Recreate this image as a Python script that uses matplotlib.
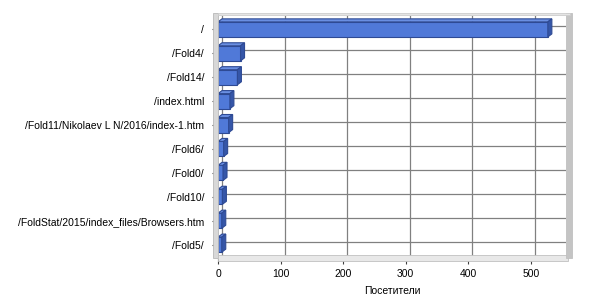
import matplotlib
matplotlib.use("Agg")
import matplotlib.pyplot as plt
from matplotlib.patches import Polygon, Rectangle
import matplotlib.transforms as mtransforms

plt.rcParams['font.family'] = ['Liberation Sans', 'DejaVu Sans']

# data
pages = ["/", "/Fold4/", "/Fold14/", "/index.html", "/Fold11/Nikolaev L N/2016/index-1.htm",
         "/Fold6/", "/Fold0/", "/Fold10/", "/FoldStat/2015/index_files/Browsers.htm", "/Fold5/"]
visitors = [527, 36, 31, 19, 17, 9, 8, 7, 6, 6]
xticks = [0, 100, 200, 300, 400, 500]

front = "#5079d8"
side = "#3556a8"
top = "#6a8fe2"
edge = "#2e4a94"

fig = plt.figure(figsize=(6, 3), dpi=100)
W, H = 600, 300
x0, x1, y0, y1 = 218, 566, 258, 16
ax = fig.add_axes([x0 / W, 1 - y0 / H, (x1 - x0) / W, (y0 - y1) / H])
ax.set_xlim(0, 556)
ax.set_ylim(9.56, -0.56)
for s in ax.spines.values():
    s.set_visible(False)

# 3D depth (pixels) for the back wall
dpx, dpy = 4, 3
off = mtransforms.ScaledTranslation(dpx / 100, dpy / 100, fig.dpi_scale_trans)
back = ax.transData + off

# walls
fig.patches.append(Rectangle((213, H - 258), 5, 245, transform=None, facecolor="#d8d8d8",
                             edgecolor="#b8b8b8", lw=0.6))
fig.patches.append(Rectangle((218, H - 261), 350, 6, transform=None, facecolor="#e8e8e8",
                             edgecolor="#c0c0c0", lw=0.6))
fig.patches.append(Rectangle((566, H - 258), 6, 245, transform=None, facecolor="#c4c4c4",
                             edgecolor="#c0c0c0", lw=0.6))
fig.patches.append(Rectangle((218, H - 15), 352, 2, transform=None, facecolor="#e4e4e4",
                             edgecolor="#cccccc", lw=0.6))

# grid on back wall
for xt in xticks:
    ax.plot([xt, xt], [9.56, -0.56], color="#808080", lw=0.9, transform=back, zorder=1)
for i in range(len(pages)):
    ax.plot([0, 552], [i, i], color="#808080", lw=0.9, transform=back, zorder=1)

# bars with 3D faces
h = 0.63
dx = dpx / (x1 - x0) * 556
dy = dpy / (y0 - y1) * 10.12
ax.barh(range(len(pages)), visitors, height=h, color=front, edgecolor=edge, lw=0.8, zorder=3)
for i, v in enumerate(visitors):
    ax.add_patch(Polygon([(0, i - h / 2), (dx, i - h / 2 - dy), (v + dx, i - h / 2 - dy), (v, i - h / 2)],
                         closed=True, facecolor=top, edgecolor=edge, lw=0.8, zorder=3))
    ax.add_patch(Polygon([(v, i - h / 2), (v + dx, i - h / 2 - dy), (v + dx, i + h / 2 - dy), (v, i + h / 2)],
                         closed=True, facecolor=side, edgecolor=edge, lw=0.8, zorder=3))

ax.set_yticks(range(len(pages)))
ax.set_yticklabels(pages, fontsize=7.5)
ax.set_xticks(xticks)
ax.set_xticklabels([str(t) for t in xticks], fontsize=7.5)
ax.tick_params(axis="y", length=4, pad=6, color="#404040")
ax.tick_params(axis="x", length=4, pad=4, color="#404040")
ax.set_xlabel("Посетители", fontsize=7.5, labelpad=5)

fig.savefig("out.png", dpi=100)
